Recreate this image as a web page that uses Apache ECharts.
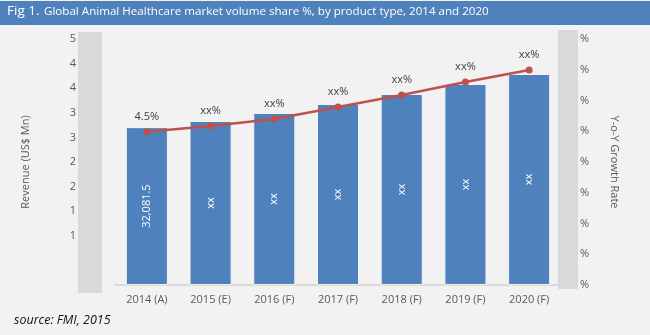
<!DOCTYPE html>
<html>
<head>
<meta charset="utf-8">
<script src="https://cdn.jsdelivr.net/npm/echarts@6/dist/echarts.min.js"></script>
<style>
  html, body { margin: 0; padding: 0; background: #f2f2f2; }
  #chart { width: 650px; height: 335px; }
</style>
</head>
<body>
<div id="chart"></div>
<script>
const categories = ['2014 (A)', '2015 (E)', '2016 (F)', '2017 (F)', '2018 (F)', '2019 (F)', '2020 (F)'];
const revenue = [32081.5, 33330, 34960, 36790, 38820, 40850, 42890];
const revenueLabels = ['32,081.5', 'xx', 'xx', 'xx', 'xx', 'xx', 'xx'];
const growth = [4.98, 5.17, 5.40, 5.79, 6.18, 6.60, 6.99];
const growthLabels = ['4.5%', 'xx%', 'xx%', 'xx%', 'xx%', 'xx%', 'xx%'];
const leftTickLabels = ['', '', '1', '1', '2', '2', '3', '3', '4', '4', '5'];
const rightTickLabels = ['%', '%', '%', '%', '%', '%', '%', '%', '%'];

const FONT = '"Open Sans", sans-serif';
const chart = echarts.init(document.getElementById('chart'), null, { renderer: 'canvas' });

chart.setOption({
  backgroundColor: '#f2f2f2',
  animation: false,
  textStyle: { fontFamily: FONT },
  graphic: [
    { type: 'rect', left: 0, top: 1, shape: { width: 650, height: 24 }, style: { fill: '#4f81bd' }, z: -1 },
    { type: 'rect', left: 78, top: 32, shape: { width: 24, height: 261 }, style: { fill: '#d9d9d9' }, z: -1 },
    { type: 'rect', left: 558, top: 30, shape: { width: 20, height: 259 }, style: { fill: '#d9d9d9' }, z: -1 },
    { type: 'text', left: 7, top: 4, style: { text: 'Fig 1.', fill: '#ffffff', font: '13.5px ' + FONT } },
    { type: 'text', left: 44, top: 6, style: { text: 'Global Animal Healthcare market volume share %, by product type, 2014 and 2020', fill: '#ffffff', font: '11.6px ' + FONT } },
    { type: 'text', left: 14, top: 314, style: { text: 'source: FMI, 2015', fill: '#111111', font: 'italic 12.5px ' + FONT } }
  ],
  grid: { left: 115, right: 89, top: 39, bottom: 50 },
  xAxis: {
    type: 'category',
    data: categories,
    axisLine: { lineStyle: { color: '#d9d9d9', width: 2 } },
    axisTick: { show: false },
    axisLabel: { color: '#595959', fontSize: 11, margin: 9, fontFamily: FONT }
  },
  yAxis: [
    {
      type: 'value', min: 0, max: 50000, interval: 5000,
      name: 'Revenue (US$ Mn)', nameLocation: 'middle', nameRotate: 90, nameGap: 84,
      nameTextStyle: { color: '#595959', fontSize: 11, fontFamily: FONT },
      axisLine: { show: false }, axisTick: { show: false }, splitLine: { show: false },
      axisLabel: { color: '#595959', fontSize: 11, margin: 39, fontFamily: FONT,
        formatter: (v) => leftTickLabels[Math.round(v / 5000)] }
    },
    {
      type: 'value', min: 0, max: 8, interval: 1, position: 'right',
      name: 'Y-o-Y Growth Rate', nameLocation: 'middle', nameRotate: -90, nameGap: 48,
      nameTextStyle: { color: '#595959', fontSize: 11, fontFamily: FONT },
      axisLine: { show: false }, axisTick: { show: false }, splitLine: { show: false },
      axisLabel: { color: '#595959', fontSize: 11, margin: 19, fontFamily: FONT,
        formatter: (v) => rightTickLabels[Math.round(v)] }
    }
  ],
  series: [
    {
      type: 'bar', yAxisIndex: 0, data: revenue, barCategoryGap: '34%',
      itemStyle: { color: '#4f81bd', borderColor: '#f2f2f2', borderWidth: 1 },
      label: { show: true, position: 'inside', rotate: 90, color: '#ffffff', fontSize: 11, fontFamily: FONT,
        formatter: (p) => revenueLabels[p.dataIndex] }
    },
    {
      type: 'line', yAxisIndex: 1, data: growth, symbol: 'circle', symbolSize: 7,
      lineStyle: { color: '#c0504d', width: 2.5 },
      itemStyle: { color: '#c0504d' },
      label: { show: true, position: 'top', distance: 6, color: '#404040', fontSize: 11, fontFamily: FONT,
        formatter: (p) => growthLabels[p.dataIndex] }
    }
  ]
});
</script>
</body>
</html>
